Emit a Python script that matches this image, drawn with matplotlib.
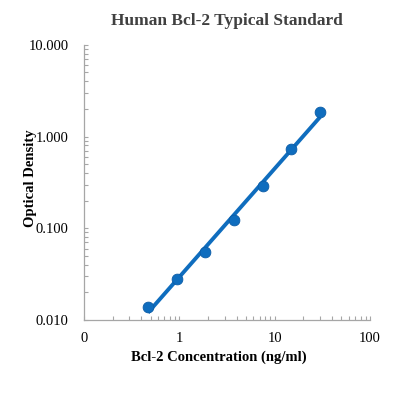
import numpy as np
import matplotlib.pyplot as plt
from matplotlib.ticker import FixedLocator, FixedFormatter, LogLocator, NullFormatter

# standard curve readings
conc = [0.47, 0.94, 1.88, 3.75, 7.5, 15, 30]
od = [0.0139, 0.0282, 0.0545, 0.124, 0.291, 0.734, 1.876]
xticks = [0.1, 1, 10, 100]
xticklabels = ['0', '1', '10', '100']
yticks = [0.01, 0.1, 1, 10]
yticklabels = ['0.010', '0.100', '1.000', '10.000']

plt.rcParams['font.family'] = ['Liberation Serif', 'DejaVu Serif']
blue = '#0F6DBE'

fig = plt.figure(figsize=(3.96, 3.97), dpi=100)
ax = fig.add_axes([0.212, 0.194, 0.722, 0.693])

# power trendline (straight line in log-log)
lx, ly = np.log10(conc), np.log10(od)
k, b = np.polyfit(lx, ly, 1)
xf = np.array([min(conc), max(conc)])
ax.plot(xf, 10 ** (k * np.log10(xf) + b), color=blue, lw=2.8, solid_capstyle='butt', zorder=2)
ax.scatter(conc, od, s=60, color=blue, edgecolors='#0B5CA6', linewidths=0.6, zorder=3)

ax.set_xscale('log')
ax.set_yscale('log')
ax.set_xlim(0.1, 100)
ax.set_ylim(0.01, 10)

ax.xaxis.set_major_locator(FixedLocator(xticks))
ax.xaxis.set_major_formatter(FixedFormatter(xticklabels))
ax.yaxis.set_major_locator(FixedLocator(yticks))
ax.yaxis.set_major_formatter(FixedFormatter(yticklabels))
ax.xaxis.set_minor_locator(LogLocator(base=10, subs=np.arange(2, 10)))
ax.yaxis.set_minor_locator(LogLocator(base=10, subs=np.arange(2, 10)))
ax.xaxis.set_minor_formatter(NullFormatter())
ax.yaxis.set_minor_formatter(NullFormatter())

for s in ['top', 'right']:
    ax.spines[s].set_visible(False)
for s in ['left', 'bottom']:
    ax.spines[s].set_color('#A6A6A6')
    ax.spines[s].set_linewidth(0.9)

ax.tick_params(which='both', direction='in', color='#A6A6A6', width=0.8, length=3, labelsize=10.5)
ax.tick_params(axis='y', which='both', pad=11)
ax.tick_params(axis='x', which='both', pad=9)

ax.set_title('Human Bcl-2 Typical Standard', fontsize=12.5, fontweight='bold', color='#404040', pad=14)
ax.set_xlabel('Bcl-2 Concentration (ng/ml)', fontsize=10.5, fontweight='bold')
ax.set_ylabel('Optical Density', fontsize=10.5, fontweight='bold')
ax.xaxis.set_label_coords(0.472, -0.112)
ax.yaxis.set_label_coords(-0.164, 0.515)

fig.savefig('out.png', dpi=100)
